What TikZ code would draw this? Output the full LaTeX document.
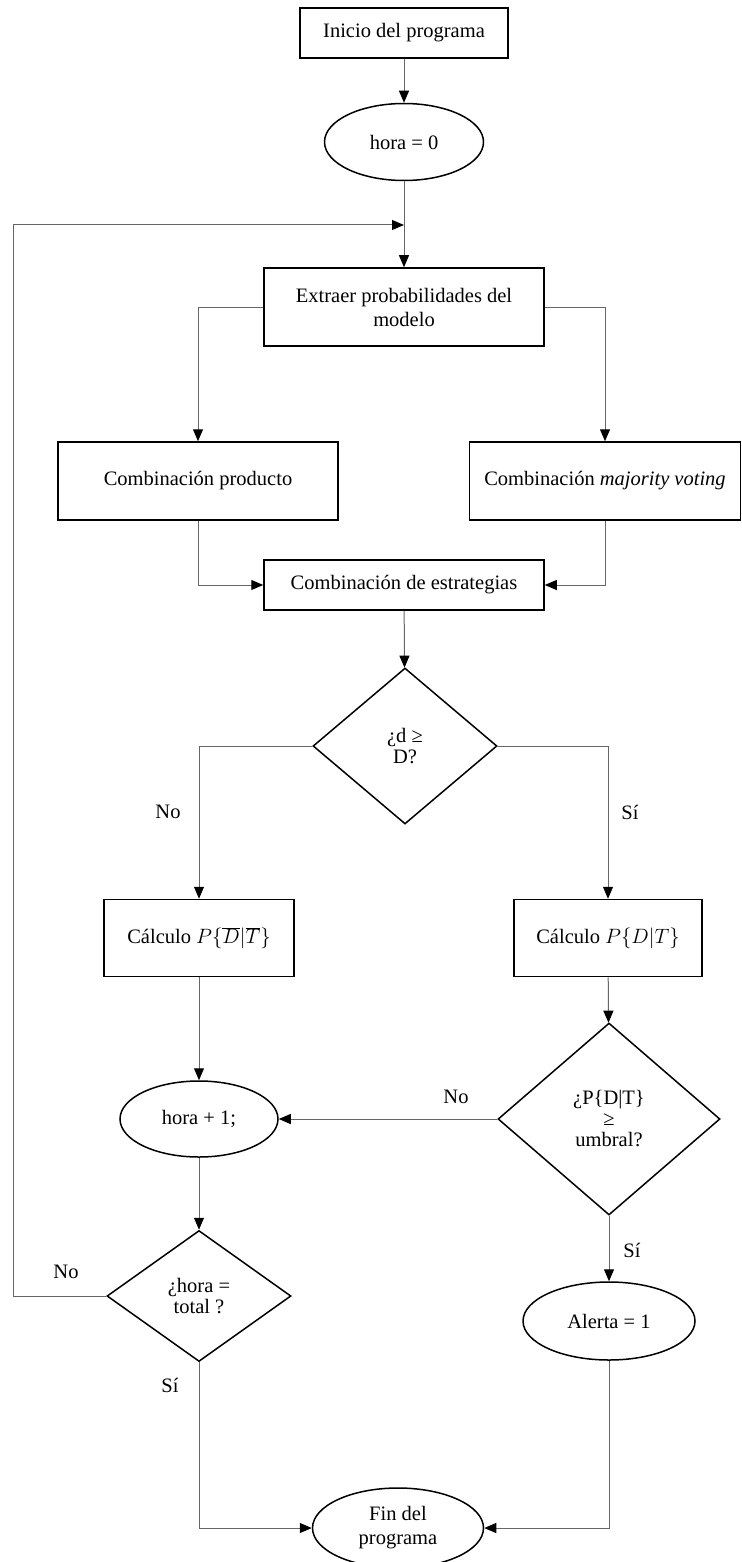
\documentclass[tikz,border=0pt]{standalone}
\usepackage{fontspec}
\setmainfont{Liberation Serif}
\usetikzlibrary{arrows.meta,shapes.geometric}

\begin{document}
\begin{tikzpicture}[
    x=1pt, y=-1pt,
    >={Triangle[length=12pt,width=10pt,color=black]},
    font=\fontsize{20.5}{24}\selectfont,
    box/.style={draw, line width=1.5pt, minimum width=280pt,
                minimum height=78pt, inner sep=2pt, align=center},
    ellip/.style={draw, ellipse, line width=1.5pt, minimum width=159pt,
                  minimum height=77pt, inner sep=0pt, align=center},
    decision/.style={draw, diamond, line width=1.5pt, inner sep=0pt,
                     align=center, font=\fontsize{20.5}{21}\selectfont},
    arr/.style={->, line width=1pt, draw=black!60},
    lbl/.style={inner sep=0pt}
  ]
  \useasboundingbox (0,0) rectangle (741,1562);

  \node (inicio)  [box, minimum width=208pt, minimum height=50pt] at (404,33) {Inicio del programa};
  \node (hora0)   [ellip] at (404,142) {hora = 0};
  \node (extraer) [box] at (404,307) {Extraer probabilidades del\\modelo};
  \node (prod)    [box] at (198,481) {Combinación producto};
  \node (major)   [box, minimum width=271pt] at (605,481) {Combinación \textit{majority voting}};
  \node (estrat)  [box, minimum height=50pt] at (404,585) {Combinación de estrategias};
  \node (dnum)    [decision, minimum width=184pt, minimum height=156pt] at (405,746) {¿d ≥\\D?};
  \node (calcno)  [box, minimum width=190pt, minimum height=77pt] at (199,938) {Cálculo $P\{\overline{D}|\overline{T}\}$};
  \node (calcsi)  [box, minimum width=188pt, minimum height=77pt] at (608,938) {Cálculo $P\{D|T\}$};
  \node (dumbral) [decision, minimum width=222pt, minimum height=192pt] at (609,1119) {¿P\{D|T\}\\≥\\umbral?};
  \node (hora1)   [ellip, minimum width=158pt, minimum height=76pt] at (199,1119) {hora + 1;};
  \node (dtotal)  [decision, minimum width=184pt, minimum height=131pt] at (199,1296) {¿hora =\\total ?};
  \node (alerta)  [ellip, minimum width=172pt, minimum height=78pt] at (609,1321) {Alerta = 1};
  \node (fin)     [ellip, minimum width=171pt, minimum height=80pt] at (398,1528) {Fin del\\programa};

  % labels
  \node (nodnum)   [lbl] at (168,812)  {No};
  \node (sidnum)   [lbl] at (630,812)  {Sí};
  \node (noumbral) [lbl] at (456,1097) {No};
  \node (siumbral) [lbl] at (632,1250) {Sí};
  \node (nototal)  [lbl] at (66,1272)  {No};
  \node (sitotal)  [lbl] at (170,1385) {Sí};

  \coordinate (bucle) at (404,225);
  \coordinate (izq)   at (13,1296);

  \draw[arr] (inicio) -- (hora0);
  \draw[arr] (hora0) -- (extraer);
  \draw[arr] (extraer.west) -| (prod.north);
  \draw[arr] (extraer.east) -| (major.north);
  \draw[arr] (prod.south) |- (estrat.west);
  \draw[arr] (major.south) |- (estrat.east);
  \draw[arr] (estrat) -- (dnum);
  \draw[arr] (dnum.west) -| (calcno.north);
  \draw[arr] (dnum.east) -| (calcsi.north);
  \draw[arr] (calcno) -- (hora1);
  \draw[arr] (calcsi) -- (dumbral);
  \draw[arr] (dumbral.west) -- (hora1.east);
  \draw[arr] (dumbral) -- (alerta);
  \draw[arr] (hora1) -- (dtotal);
  \draw[arr] (dtotal.west) -- (izq) |- (bucle);
  \draw[arr] (dtotal.south) |- (fin.west);
  \draw[arr] (alerta.south) |- (fin.east);
\end{tikzpicture}
\end{document}
